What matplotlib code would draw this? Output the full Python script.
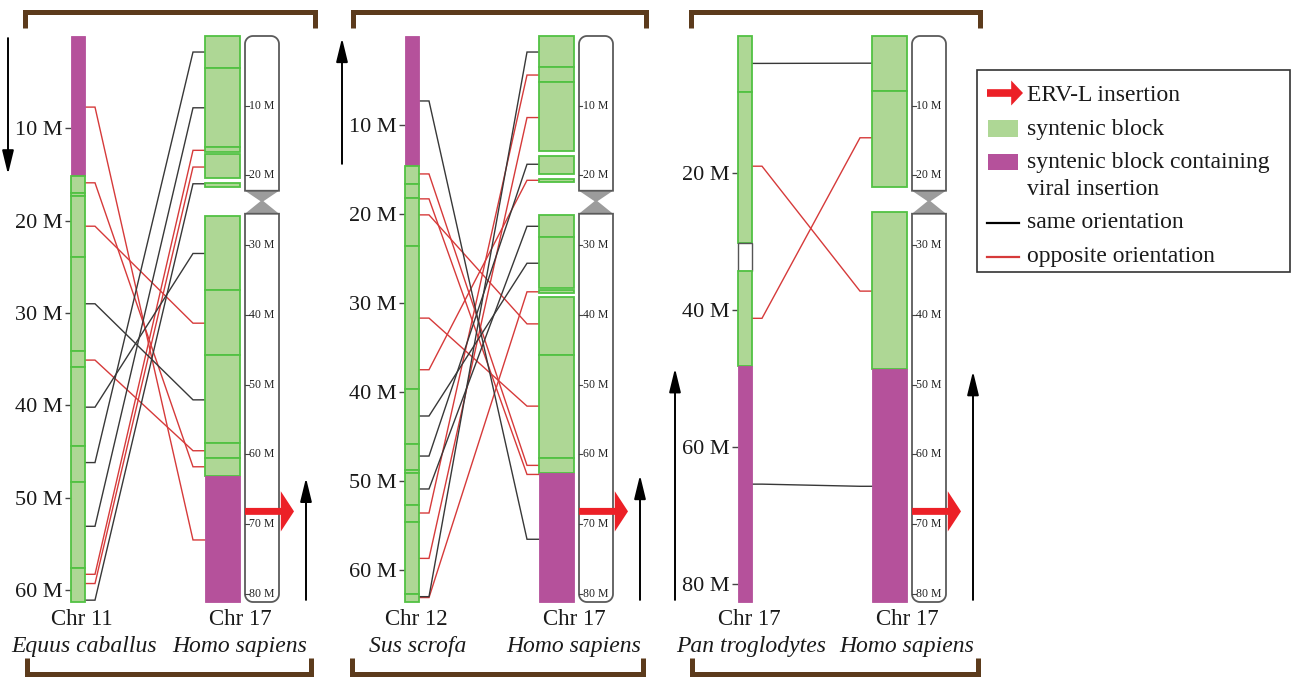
import numpy as np
import matplotlib.pyplot as plt
from matplotlib.patches import Rectangle, Polygon

plt.rcParams['font.family'] = 'Liberation Serif'

W, H = 1292, 677

# ---------------- data (positions in Mb) ----------------
human_len = 81.2
human_cen = (22.2, 23.7, 25.5)      # p-arm end, waist, q-arm start
human_ticks = [10, 20, 30, 40, 50, 60, 70, 80]
erv_site = 68.2

# panel 1: horse chr 11 vs human chr 17
horse_len = 61.3
horse_ticks = [10, 20, 30, 40, 50, 60]
horse_blocks = [(0, 15.2, 'v'), (15.2, 17.0, 'g'), (17.0, 17.3, 'g'), (17.3, 23.9, 'g'),
                (23.9, 34.1, 'g'), (34.1, 35.9, 'g'), (35.9, 44.4, 'g'), (44.4, 48.3, 'g'),
                (48.3, 57.6, 'g'), (57.6, 61.3, 'g')]
human1_blocks = [(0, 4.6, 'g'), (4.6, 15.9, 'g'), (15.9, 16.6, 'g'), (16.9, 20.4, 'g'),
                 (21.1, 21.7, 'g'), (25.8, 36.4, 'g'), (36.4, 45.8, 'g'), (45.8, 58.4, 'g'),
                 (58.4, 60.5, 'g'), (60.5, 63.1, 'g'), (63.1, 81.2, 'v')]
# (other species Mb, human Mb, same orientation)
horse_links = [(7.7, 72.3, False), (15.9, 61.8, False), (20.6, 41.2, False), (35.1, 59.5, False),
               (58.3, 16.4, False), (59.3, 18.8, False),
               (29.0, 52.2, True), (40.2, 31.2, True), (46.2, 2.3, True), (53.1, 10.3, True),
               (61.1, 21.2, True)]

# panel 2: pig chr 12 vs human chr 17
pig_len = 63.6
pig_ticks = [10, 20, 30, 40, 50, 60]
pig_blocks = [(0, 14.6, 'v'), (14.6, 16.6, 'g'), (16.6, 18.2, 'g'), (18.2, 23.6, 'g'),
              (23.6, 39.7, 'g'), (39.7, 45.8, 'g'), (45.8, 48.8, 'g'), (48.8, 49.1, 'g'),
              (49.1, 52.7, 'g'), (52.7, 54.6, 'g'), (54.6, 62.7, 'g'), (62.7, 63.6, 'g')]
human2_blocks = [(0, 4.4, 'g'), (4.4, 6.6, 'g'), (6.6, 16.5, 'g'), (17.2, 19.8, 'g'),
                 (20.5, 20.9, 'g'), (25.7, 28.9, 'g'), (28.9, 36.2, 'g'), (36.5, 36.9, 'g'),
                 (37.4, 45.7, 'g'), (45.7, 60.6, 'g'), (60.6, 62.7, 'g'), (62.7, 81.2, 'v')]
pig_links = [(15.5, 61.6, False), (18.3, 62.9, False), (20.1, 41.3, False), (31.7, 53.1, False),
             (37.5, 20.7, False), (53.6, 5.6, False), (58.7, 11.7, False), (63.1, 36.7, False),
             (7.3, 72.2, True), (42.7, 32.6, True), (47.2, 18.4, True), (50.9, 27.3, True),
             (63.0, 2.3, True)]

# panel 3: chimpanzee chr 17 vs human chr 17
chimp_len = 82.6
chimp_ticks = [20, 40, 60, 80]
chimp_blocks = [(0, 8.2, 'g'), (8.2, 30.2, 'g'), (30.2, 34.3, 'gap'), (34.3, 48.2, 'g'),
                (48.2, 82.6, 'v')]
human3_blocks = [(0, 7.9, 'g'), (7.9, 21.6, 'g'), (25.3, 47.8, 'g'), (47.8, 81.2, 'v')]
chimp_links = [(4.0, 3.9, True), (19.0, 36.6, False), (41.2, 14.6, False), (65.4, 64.6, True)]

species = ['Equus caballus', 'Sus scrofa', 'Pan troglodytes']
chr_names = ['Chr 11', 'Chr 12', 'Chr 17']
arrow_dir = ['down', 'up', 'up']

# ---------------- style / layout ----------------
GREEN_FC = '#aed795'
GREEN_EC = '#52c143'
VIRAL = '#b5519b'
RED = '#d63a3a'
BLACK = '#383838'
ARROW_RED = '#ec2027'
BROWN = '#5c3b1c'

TOP, BOT = 36, 602          # pixel rows of chromosome start / end
offsets = [0, 334, 667]
LX0, LX1 = 70.5, 85         # other-species chromosome
HX0, HX1 = 205, 240         # human syntenic column
IX0, IX1 = 245, 279         # human ideogram
EL, ER = 95, 193            # link elbows


def limits(length):
    f = length / (BOT - TOP)
    return (H - TOP) * f, -TOP * f


def draw_blocks(ax, blocks, x0, x1):
    for s, e, kind in blocks:
        if kind == 'v':
            fc, ec, lw = VIRAL, VIRAL, 0.6
        elif kind == 'gap':
            fc, ec, lw = 'white', '#555555', 1.0
        else:
            fc, ec, lw = GREEN_FC, GREEN_EC, 1.3
        ax.add_patch(Rectangle((x0, s), x1 - x0, e - s, fc=fc, ec=ec, lw=lw, zorder=3))


def draw_ideogram(axr, x0, x1):
    ppm = abs(axr.transData.transform((0, 1))[1] - axr.transData.transform((0, 0))[1])
    r = 8.0
    rm = r / ppm
    p_end, waist, q_start = human_cen
    bot = human_len
    t = np.linspace(0, np.pi / 2, 12)
    lt = np.column_stack([x0 + r - r * np.cos(t), rm - rm * np.sin(t)])
    rt = np.column_stack([x1 - r + r * np.sin(t), rm - rm * np.cos(t)])
    p_pts = np.vstack([[[x0, p_end]], lt, rt, [[x1, p_end]]])
    rb = np.column_stack([x1 - r + r * np.cos(t), bot - rm + rm * np.sin(t)])
    lb = np.column_stack([x0 + r - r * np.sin(t), bot - rm + rm * np.cos(t)])
    q_pts = np.vstack([[[x0, q_start], [x1, q_start]], rb, lb])
    xc = (x0 + x1) / 2
    axr.add_patch(Polygon([(x0, p_end), (x1, p_end), (xc + 1.5, waist), (x1, q_start),
                           (x0, q_start), (xc - 1.5, waist)], closed=True,
                          fc='#9c9c9c', ec='none', zorder=2))
    for pts in (p_pts, q_pts):
        axr.add_patch(Polygon(pts, closed=True, fc='white', ec='#5a5a5a', lw=1.3, zorder=3))
    for m in human_ticks:
        axr.plot([x0, x0 + 3.5], [m, m], color='#444444', lw=0.8, zorder=4)
        axr.text(x0 + 4, m, f'{m} M', fontsize=8.5, va='center', ha='left',
                 color='#222222', zorder=4)


def vert_arrow(a, x, s, e, direction):
    head, tail = (e, s) if direction == 'down' else (s, e)
    a.annotate('', xy=(x, head), xytext=(x, tail),
               arrowprops=dict(arrowstyle='-|>,head_length=0.9,head_width=0.22',
                               color='black', lw=1.4, mutation_scale=16,
                               shrinkA=1.5, shrinkB=1.5), zorder=5)


fig = plt.figure(figsize=(W / 100, H / 100), dpi=100)

panels = [
    (horse_len, horse_ticks, horse_blocks, human1_blocks, horse_links),
    (pig_len, pig_ticks, pig_blocks, human2_blocks, pig_links),
    (chimp_len, chimp_ticks, chimp_blocks, human3_blocks, chimp_links),
]

for i, (L, ticks, oblocks, hblocks, links) in enumerate(panels):
    off = offsets[i]
    ax = fig.add_axes([off / W, 0, 330 / W, 1])
    ax.set_xlim(0, 330)
    ax.set_ylim(*limits(L))
    axr = ax.twinx()
    axr.set_ylim(*limits(human_len))
    ax.patch.set_visible(False)
    axr.axis('off')
    for sp in ax.spines.values():
        sp.set_visible(False)
    ax.set_xticks([])
    ax.spines['left'].set_position(('data', LX0))
    ax.set_yticks(ticks)
    ax.set_yticklabels([f'{t} M' for t in ticks])
    ax.tick_params(axis='y', length=4, width=1, color='#444444', pad=1.5,
                   labelsize=16, labelcolor='#1a1a1a')

    draw_blocks(ax, oblocks, LX0, LX1)
    draw_blocks(axr, hblocks, HX0, HX1)
    draw_ideogram(axr, IX0, IX1)

    inv = ax.transData.inverted()
    for a, b, same in links:
        yb = inv.transform(axr.transData.transform((0, b)))[1]
        ax.plot([LX1, EL, ER, HX0], [a, a, yb, yb], color=BLACK if same else RED,
                lw=1.0, zorder=2, solid_joinstyle='miter')

    vs, ve = [(s, e) for s, e, k in oblocks if k == 'v'][0]
    vert_arrow(ax, 8, vs, ve, arrow_dir[i])
    hs, he = [(s, e) for s, e, k in hblocks if k == 'v'][0]
    vert_arrow(axr, 306, hs, he, 'up')

    axr.annotate('', xy=(294, erv_site), xytext=(IX0, erv_site),
                 arrowprops=dict(arrowstyle='simple,head_length=0.95,head_width=2.9,tail_width=0.5',
                                 mutation_scale=10, color=ARROW_RED, lw=0,
                                 shrinkA=0, shrinkB=0), zorder=6)

# overlay: brackets, labels, legend
ov = fig.add_axes([0, 0, 1, 1])
ov.set_xlim(0, W)
ov.set_ylim(H, 0)
ov.axis('off')

top_br = [(25, 315), (353, 646), (691, 980)]
bot_br = [(27, 311), (352, 643), (692, 978)]
for (a, b), (c, d) in zip(top_br, bot_br):
    ov.plot([a, a, b, b], [28, 12, 12, 28], color=BROWN, lw=3.6,
            solid_joinstyle='miter', solid_capstyle='butt')
    ov.plot([c, c, d, d], [658, 674, 674, 658], color=BROWN, lw=3.6,
            solid_joinstyle='miter', solid_capstyle='butt')

for i, off in enumerate(offsets):
    ov.text(off + 82, 625, chr_names[i], fontsize=16.5, ha='center', va='baseline', color='#1a1a1a')
    ov.text(off + 240, 625, 'Chr 17', fontsize=16.5, ha='center', va='baseline', color='#1a1a1a')
    ov.text(off + 84, 652, species[i], fontsize=17, style='italic', ha='center',
            va='baseline', color='#1a1a1a')
    ov.text(off + 240, 652, 'Homo sapiens', fontsize=17, style='italic', ha='center',
            va='baseline', color='#1a1a1a')

ov.add_patch(Rectangle((977, 70), 313, 202, fc='white', ec='#333333', lw=1.2))
ov.annotate('', xy=(1023, 93), xytext=(987, 93),
            arrowprops=dict(arrowstyle='simple,head_length=0.85,head_width=1.8,tail_width=0.55',
                            mutation_scale=10, color=ARROW_RED, lw=0, shrinkA=0, shrinkB=0))
ov.add_patch(Rectangle((988, 120), 30, 17, fc=GREEN_FC, ec='none'))
ov.add_patch(Rectangle((988, 154), 30, 16, fc=VIRAL, ec='none'))
ov.plot([987, 1019], [223, 223], color='black', lw=1.6)
ov.plot([987, 1019], [257, 257], color=RED, lw=1.6)
leg_txt = [('ERV-L insertion', 101), ('syntenic block', 135),
           ('syntenic block containing', 168), ('viral insertion', 195),
           ('same orientation', 228), ('opposite orientation', 262)]
for s, yb in leg_txt:
    ov.text(1027, yb, s, fontsize=17, ha='left', va='baseline', color='#1a1a1a')

fig.savefig('out.png', dpi=100)
